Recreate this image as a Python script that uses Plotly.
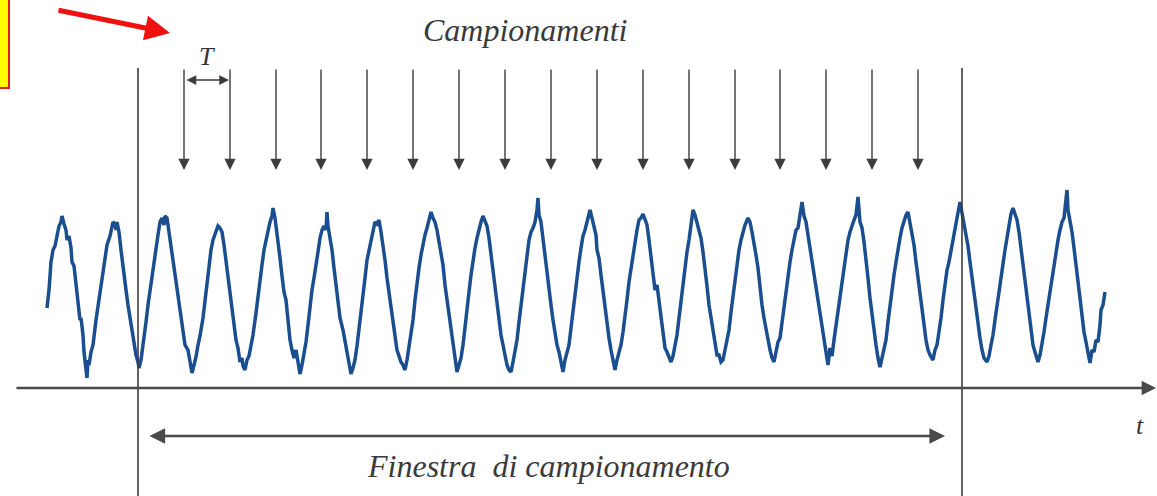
import plotly.graph_objects as go

# time in picture units (arbitrary), amplitude measured above the time axis
wave_t = [47, 49, 51, 53, 55, 57, 59, 61, 62, 64, 66, 67, 69, 71, 72, 74, 76, 78, 80, 81, 83, 84, 86, 87, 88, 89,
          91, 93, 96, 99, 101, 104, 107, 110, 112, 113, 115, 116, 117, 119, 121, 123, 126, 128, 131, 134, 136, 138,
          139, 141, 143, 146, 148, 150, 152, 154, 156, 158, 160, 162, 164, 165, 167, 169, 171, 174, 176, 178, 181,
          183, 185, 188, 190, 192, 194, 196, 198, 200, 203, 205, 207, 209, 211, 213, 216, 218, 220, 222, 224, 226,
          228, 230, 232, 234, 236, 238, 240, 242, 243, 245, 247, 249, 251, 253, 256, 258, 260, 262, 264, 266, 268,
          270, 272, 273, 275, 276, 278, 280, 282, 284, 286, 288, 290, 292, 294, 296, 298, 300, 302, 304, 306, 308,
          310, 312, 314, 316, 318, 320, 322, 324, 326, 327, 328, 330, 332, 334, 336, 338, 340, 343, 345, 347, 349,
          351, 353, 355, 357, 359, 361, 363, 365, 367, 369, 371, 373, 375, 377, 379, 381, 383, 385, 387, 389, 391,
          393, 395, 397, 399, 401, 403, 405, 407, 409, 411, 413, 415, 417, 419, 421, 423, 425, 427, 429, 431, 433,
          435, 437, 439, 441, 443, 445, 447, 449, 451, 453, 455, 457, 459, 461, 463, 465, 467, 469, 471, 473, 475,
          477, 479, 481, 483, 485, 487, 489, 491, 493, 495, 497, 499, 501, 503, 505, 507, 509, 511, 513, 515, 517,
          519, 521, 523, 525, 527, 529, 531, 533, 535, 537, 538, 539, 541, 543, 545, 547, 549, 551, 553, 555, 557,
          559, 561, 563, 565, 567, 569, 571, 573, 575, 577, 579, 581, 583, 585, 587, 589, 590, 592, 594, 596, 597,
          599, 601, 603, 605, 607, 609, 611, 613, 615, 617, 619, 621, 623, 625, 627, 629, 631, 633, 635, 637, 639,
          641, 643, 645, 647, 649, 651, 653, 655, 657, 659, 661, 663, 665, 667, 669, 671, 673, 675, 677, 679, 681,
          683, 685, 687, 689, 691, 693, 695, 697, 699, 701, 703, 705, 707, 709, 711, 713, 715, 717, 719, 721, 723,
          725, 727, 729, 731, 733, 735, 737, 739, 741, 743, 745, 748, 750, 752, 754, 756, 758, 760, 762, 764, 766,
          768, 770, 772, 774, 776, 778, 780, 782, 784, 786, 788, 790, 792, 794, 796, 798, 800, 802, 804, 806, 808,
          810, 812, 814, 816, 818, 820, 822, 824, 826, 828, 830, 832, 834, 836, 838, 840, 842, 844, 846, 848, 850,
          852, 854, 856, 858, 860, 862, 864, 866, 868, 870, 872, 874, 876, 878, 880, 882, 884, 886, 888, 890, 892,
          894, 896, 898, 900, 902, 904, 906, 908, 910, 912, 914, 916, 918, 920, 922, 924, 926, 928, 930, 933, 935,
          937, 939, 941, 943, 945, 947, 949, 951, 953, 955, 957, 960, 962, 964, 966, 968, 970, 972, 974, 976, 978,
          980, 982, 984, 987, 989, 991, 993, 995, 997, 999, 1001, 1003, 1005, 1007, 1009, 1011, 1013, 1015, 1017,
          1019, 1021, 1023, 1025, 1027, 1029, 1031, 1033, 1035, 1038, 1040, 1042, 1044, 1046, 1048, 1050, 1052,
          1054, 1056, 1058, 1060, 1062, 1064, 1066, 1067, 1068, 1070, 1072, 1074, 1076, 1078, 1080, 1082, 1084,
          1086, 1088, 1090, 1092, 1094, 1096, 1098, 1100, 1101, 1103, 1105]
wave_v = [80, 98, 126, 138, 142, 153, 162, 166, 172, 164, 158, 148, 152, 140, 126, 122, 106, 88, 68, 70, 53, 36, 16, 10, 28, 23,
          36, 43, 68, 88, 106, 126, 143, 152, 160, 166, 164, 158, 166, 156, 138, 120, 98, 83, 63, 43, 33, 26,
          20, 28, 41, 66, 83, 98, 113, 128, 143, 153, 166, 170, 163, 172, 170, 156, 141, 118, 105, 88, 68,
          53, 43, 38, 25, 15, 23, 31, 43, 52, 70, 88, 106, 123, 138, 148, 156, 162, 160, 156, 143, 128,
          113, 98, 83, 63, 48, 40, 26, 30, 22, 18, 28, 32, 41, 53, 75, 93, 106, 123, 138, 148, 158,
          166, 172, 180, 170, 163, 150, 130, 112, 96, 88, 68, 48, 38, 30, 38, 26, 14, 23, 33, 46, 63,
          83, 98, 110, 126, 136, 150, 158, 162, 158, 176, 162, 150, 138, 120, 103, 88, 70, 58, 46, 33, 26,
          14, 20, 28, 42, 58, 72, 93, 110, 128, 138, 148, 156, 166, 164, 168, 156, 144, 128, 110, 96, 82,
          66, 50, 38, 32, 26, 23, 18, 28, 40, 53, 68, 88, 106, 120, 133, 144, 153, 160, 168, 176, 170,
          166, 158, 146, 136, 123, 103, 88, 70, 58, 43, 30, 16, 23, 30, 43, 63, 80, 96, 113, 128, 140,
          150, 160, 166, 172, 166, 162, 150, 133, 116, 98, 83, 68, 53, 43, 33, 23, 18, 16, 26, 36, 48,
          66, 83, 98, 116, 130, 148, 156, 160, 166, 178, 190, 173, 166, 148, 133, 118, 98, 83, 68, 53, 43,
          36, 26, 16, 28, 36, 43, 60, 78, 93, 112, 126, 140, 152, 158, 166, 173, 178, 170, 163, 153, 138,
          130, 113, 96, 80, 66, 50, 38, 26, 18, 28, 36, 43, 56, 70, 88, 106, 120, 136, 146, 158, 168,
          170, 174, 168, 163, 148, 132, 116, 98, 103, 88, 70, 53, 40, 36, 30, 26, 32, 41, 53, 70, 88,
          103, 120, 136, 148, 162, 178, 173, 166, 158, 150, 136, 122, 102, 83, 70, 56, 43, 33, 33, 26, 28,
          38, 45, 58, 76, 92, 108, 126, 138, 148, 156, 163, 170, 166, 156, 146, 133, 120, 98, 83, 70, 58,
          46, 38, 30, 26, 36, 46, 50, 66, 83, 96, 113, 126, 138, 148, 158, 160, 176, 186, 172, 166, 153,
          140, 126, 113, 98, 83, 70, 58, 46, 36, 23, 40, 32, 48, 62, 76, 92, 106, 122, 136, 148, 156,
          163, 168, 173, 191, 166, 160, 146, 130, 110, 90, 72, 58, 43, 30, 21, 30, 38, 48, 66, 83, 96,
          113, 126, 140, 150, 160, 168, 173, 176, 166, 156, 143, 126, 110, 96, 78, 63, 48, 38, 33, 28, 38,
          43, 55, 70, 88, 103, 118, 126, 138, 150, 160, 170, 186, 176, 166, 156, 142, 126, 110, 93, 78, 63,
          50, 38, 30, 26, 32, 43, 53, 68, 83, 96, 110, 126, 138, 150, 163, 174, 180, 173, 168,
          156, 140, 126, 108, 90, 72, 58, 43, 36, 26, 33, 43, 56, 70, 83, 96, 110,
          123, 138, 148, 158, 166, 170, 188, 198, 178, 168, 156, 140, 123, 106, 90, 73, 56,
          46, 36, 25, 38, 36, 48, 46, 63, 78, 83, 96]

sample_t = [184, 230, 276, 321, 367, 413, 459, 505, 551, 597, 643, 689, 735, 780, 826, 872, 918]
window_t = [138, 962]

fig = go.Figure()
fig.add_trace(go.Scatter(x=wave_t, y=wave_v, mode="lines",
                         line=dict(color="#1a4e8f", width=3.5), hoverinfo="skip"))

gray = "#3c3c3c"
serif = "Liberation Serif"

# window borders
for t in window_t:
    fig.add_shape(type="line", x0=t, x1=t, y0=320, y1=-110, line=dict(color=gray, width=1.6))

anns = []
# sampling arrows
for t in sample_t:
    anns.append(dict(x=t, y=218, ax=t, ay=320, xref="x", yref="y", axref="x", ayref="y",
                     text="", showarrow=True, arrowhead=2, arrowsize=1.6, arrowwidth=1.4,
                     arrowcolor=gray, standoff=0))
# T dimension
anns.append(dict(x=sample_t[1] - 1, y=308, ax=sample_t[0] + 1, ay=308, xref="x", yref="y",
                 axref="x", ayref="y", text="", showarrow=True, arrowhead=2, arrowside="end+start",
                 arrowsize=1.3, arrowwidth=1.5, arrowcolor=gray))
anns.append(dict(x=(sample_t[0] + sample_t[1]) / 2, y=332, text="<i>T</i>", showarrow=False,
                 font=dict(family=serif, size=26, color="#333")))
# time axis
anns.append(dict(x=1156, y=0, ax=15, ay=0, xref="x", yref="y", axref="x", ayref="y",
                 text="", showarrow=True, arrowhead=2, arrowsize=1.2, arrowwidth=2.4,
                 arrowcolor="#4a4a4a", standoff=0))
anns.append(dict(x=1140, y=-37, text="<i>t</i>", showarrow=False,
                 font=dict(family=serif, size=26, color="#333")))
# window width arrow
anns.append(dict(x=945, y=-48, ax=148, ay=-48, xref="x", yref="y", axref="x", ayref="y",
                 text="", showarrow=True, arrowhead=2, arrowside="end+start",
                 arrowsize=1.2, arrowwidth=2.6, arrowcolor="#4a4a4a", standoff=0, startstandoff=0))
anns.append(dict(x=548, y=-78, text="<i>Finestra  di campionamento</i>", showarrow=False,
                 font=dict(family=serif, size=32, color="#3a3a3a")))
anns.append(dict(x=525, y=358, text="<i>Campionamenti</i>", showarrow=False,
                 font=dict(family=serif, size=32, color="#3a3a3a")))
# red pointer
anns.append(dict(x=170, y=355, ax=57, ay=378, xref="x", yref="y", axref="x", ayref="y",
                 text="", showarrow=True, arrowhead=2, arrowsize=1.0, arrowwidth=5,
                 arrowcolor="#f01010", standoff=0))

# yellow note box at the left edge
fig.add_shape(type="rect", x0=-5, x1=9, y0=300, y1=395,
              fillcolor="#ffff00", line=dict(color="#e02020", width=2))

fig.update_layout(
    width=1157, height=496,
    margin=dict(l=0, r=0, t=0, b=0),
    paper_bgcolor="white", plot_bgcolor="white",
    showlegend=False,
    annotations=anns,
    xaxis=dict(range=[0, 1157], visible=False),
    yaxis=dict(range=[-108, 388], visible=False),
)

# drop the default page margin so the figure sits at the window's corner
fig.write_html("out.html", config={"displayModeBar": False},
               post_script="document.body.style.margin='0';")
